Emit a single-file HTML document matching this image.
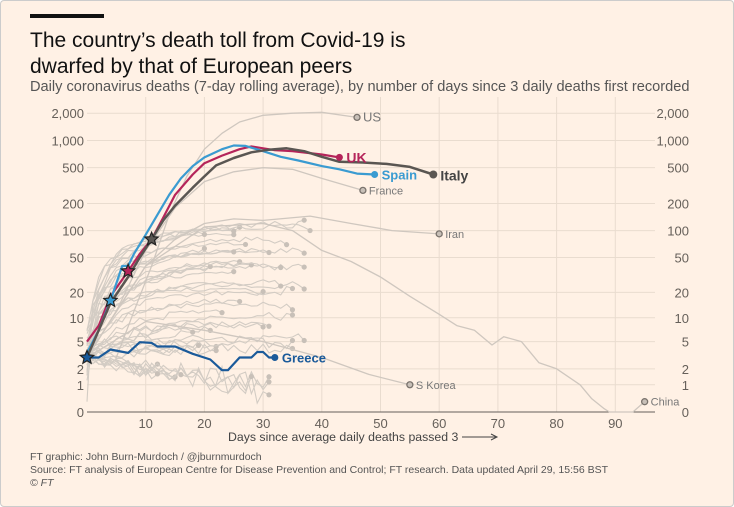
<!DOCTYPE html>
<html><head><meta charset="utf-8"><style>
body{margin:0;background:#fff;}
#c{position:relative;width:734px;height:507px;background:#FFF1E5;font-family:"Liberation Sans",sans-serif;overflow:hidden;border-radius:4px;box-shadow:inset 0 0 0 1px #ccc}
.t{position:absolute;white-space:nowrap}
</style></head><body><div id="c">
<div class="t" style="left:30px;top:14px;width:74px;height:4px;background:#111"></div>
<div class="t" style="left:30px;top:28px;font-size:21px;color:#111;line-height:26px">The country’s death toll from Covid-19 is<br>dwarfed by that of European peers</div>
<div class="t" style="left:30px;top:79px;font-size:14.6px;color:#555">Daily coronavirus deaths (7-day rolling average), by number of days since 3 daily deaths first recorded</div>
<svg id="s" width="734" height="507" style="position:absolute;left:0;top:0"></svg>
<div class="t" style="left:30px;top:451px;font-size:10.5px;color:#555;line-height:13px">FT graphic: John Burn-Murdoch / @jburnmurdoch<br>Source: FT analysis of European Centre for Disease Prevention and Control; FT research. Data updated April 29, 15:56 BST<br><i>© FT</i></div>
</div>
<script>
const s=document.getElementById('s');let h='';
const X=d=>87+5.87*d, Y=v=>412-90.5*Math.log10(1+v);
const ticks=[0,1,2,5,10,20,50,100,200,500,1000,2000];
const lab=v=>v>=1000?(v/1000)+',000':v;
for(let d=10;d<=90;d+=10)h+=`<line x1="${X(d)}" x2="${X(d)}" y1="97" y2="412" stroke="#e9dccf"/>`;
for(const v of ticks){const y=Y(v);h+=`<line x1="87" x2="655" y1="${y}" y2="${y}" stroke="#e9dccf"/>`;
h+=`<text x="84" y="${y+5}" text-anchor="end" font-size="13" fill="#66605a">${lab(v)}</text><text x="689" y="${y+5}" text-anchor="end" font-size="13" fill="#66605a">${lab(v)}</text>`;}
h+=`<line x1="87" x2="655" y1="412" y2="412" stroke="#66605a"/>`;
for(let d=10;d<=90;d+=10)h+=`<text x="${X(d)}" y="428" text-anchor="middle" font-size="13" fill="#66605a">${d}</text>`;
h+=`<text x="228" y="441" font-size="12.3" fill="#444">Days since average daily deaths passed 3</text><line x1="462" x2="496" y1="437" y2="437" stroke="#444"/><path d="M491 434 L497 437 L491 440" fill="none" stroke="#444"/>`;
let seed=11;const r=()=>{seed=(seed*9301+49297)%233280;return seed/233280;};
const P=pts=>'M'+pts.map(p=>X(p[0]).toFixed(1)+' '+Y(p[1]).toFixed(1)).join(' L');
for(let i=0;i<36;i++){const peak=4*Math.exp(r()*3.7),len=18+Math.floor(r()*22),k=0.06+r()*0.1;let pts=[];for(let d=0;d<=len;d++){let v=3+(peak-3)*(1-Math.exp(-k*d))*(1-0.008*Math.max(0,d-22)*r()*2)+(r()-0.5)*(1+peak*0.07);pts.push([d,Math.max(0.3,v)]);}
h+=`<path d="${P(pts)}" fill="none" stroke="#d3ccc4" stroke-width="1.1"/><circle cx="${X(len)}" cy="${Y(pts[len][1])}" r="2.6" fill="#c8c0b8"/>`;}
for(let i=0;i<8;i++){const len=12+Math.floor(r()*20);let pts=[];for(let d=0;d<=len;d++){let v=3*Math.exp(-0.04*d*(0.5+r()))+(r()-0.5)*0.8;pts.push([d,Math.max(0.05,v)]);}
h+=`<path d="${P(pts)}" fill="none" stroke="#d3ccc4" stroke-width="1.1"/><circle cx="${X(len)}" cy="${Y(pts[len][1])}" r="2.6" fill="#c8c0b8"/>`;}
const gl=(pts,c,w)=>h+=`<path d="${P(pts)}" fill="none" stroke="${c}" stroke-width="${w}" stroke-linejoin="round"/>`;
gl([[5,3],[8,12],[11,40],[14,150],[17,400],[20,800],[23,1200],[26,1600],[30,1900],[35,2000],[40,2050],[46,1800]],'#cfc7bf',1.3);
gl([[0,3],[5,12],[10,60],[15,180],[20,350],[25,450],[30,500],[35,480],[40,380],[47,280]],'#cfc7bf',1.3);
gl([[0,3],[5,12],[10,40],[15,80],[20,120],[25,135],[30,130],[38,145],[45,120],[52,100],[60,92]],'#cfc7bf',1.3);
gl([[0,3],[10,9],[20,7],[30,5],[40,3],[48,1.6],[55,1]],'#cfc7bf',1.3);
gl([[0,3],[10,40],[20,110],[30,120],[35,100],[40,60],[45,45],[50,30],[55,18],[60,11],[63,8],[66,7],[69,4.5],[71,5.8],[74,5],[77,2.5],[80,2],[84,1],[86,0.4],[88,0.1],[89,0],[93,0],[95,0.3]],'#cfc7bf',1.3);
gl([[0,5],[2,8],[4,18],[7,35],[9,55],[11,80],[13,140],[15,250],[18,420],[20,560],[23,680],[26,800],[28,860],[32,780],[35,760],[40,700],[43,650]],'#b5245a',2.2);
gl([[0,3.5],[2,7],[4,16],[6,40],[7,40],[8,55],[10,90],[12,150],[14,250],[16,380],[18,520],[20,650],[23,800],[25,880],[27,870],[30,760],[33,660],[36,600],[40,520],[43,480],[46,430],[49,420]],'#3a9bd1',2.2);
gl([[0,3],[2,7],[4,15],[7,30],[9,50],[11,80],[13,130],[15,190],[18,300],[20,400],[22,530],[25,640],[28,740],[31,790],[34,820],[37,760],[40,660],[43,580],[47,570],[51,550],[55,510],[59,420]],'#5a5652',2.5);
gl([[0,3],[2,3],[4,3.9],[7,3.5],[9,4.9],[11,4.8],[12,4.3],[15,4.3],[18,3.4],[21,2.8],[23,1.9],[24,1.9],[26,3],[28,3],[29,3.6],[30,3.6],[31,3],[32,3]],'#1a5a9a',2.2);
const dot=(d,v,c,rr)=>h+=`<circle cx="${X(d)}" cy="${Y(v)}" r="${rr}" fill="${c}"/>`;
const ldot=(d,v,t,fs,c)=>{h+=`<circle cx="${X(d)}" cy="${Y(v)}" r="3" fill="#c8c0b8" stroke="#7a736d" stroke-width="1.3"/><text x="${X(d)+6}" y="${Y(v)+4}" font-size="${fs}" fill="${c}">${t}</text>`;};
ldot(46,1800,'US',13,'#777');ldot(47,280,'France',11,'#777');ldot(60,92,'Iran',11,'#777');ldot(55,1,'S Korea',11,'#777');ldot(95,0.3,'China',11,'#777');
dot(43,650,'#b5245a',3.5);h+=`<text x="${X(43)+7}" y="${Y(650)+5}" font-size="14" font-weight="bold" fill="#b5245a">UK</text>`;
dot(49,420,'#3a9bd1',3.5);h+=`<text x="${X(49)+7}" y="${Y(420)+5}" font-size="13" font-weight="bold" fill="#3a9bd1">Spain</text>`;
dot(59,420,'#5a5652',4);h+=`<text x="${X(59)+7}" y="${Y(420)+6}" font-size="14" font-weight="bold" fill="#444">Italy</text>`;
dot(32,3,'#1a5a9a',3.5);h+=`<text x="${X(32)+7}" y="${Y(3)+5}" font-size="13" font-weight="bold" fill="#1a5a9a">Greece</text>`;
const star=(d,v,c)=>{const cx=X(d),cy=Y(v);let p=[];for(let i=0;i<10;i++){const a=-Math.PI/2+i*Math.PI/5,rr=i%2?3.2:7;p.push((cx+rr*Math.cos(a)).toFixed(1)+','+(cy+rr*Math.sin(a)).toFixed(1));}h+=`<polygon points="${p.join(' ')}" fill="${c}" stroke="#222" stroke-width="1.2"/>`;};
star(4,16,'#3a9bd1');star(7,35,'#b5245a');star(11,80,'#5a5652');star(0,3,'#1a5a9a');
s.innerHTML=h;
</script></body></html>
